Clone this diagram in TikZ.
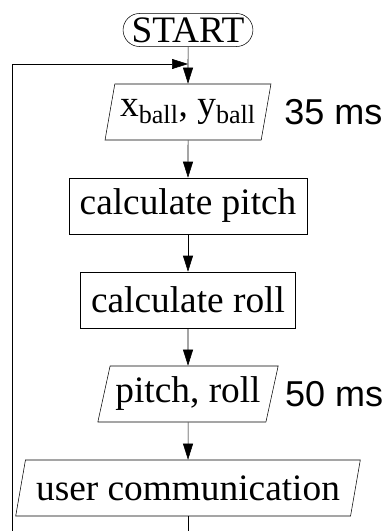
\documentclass[tikz,border=0pt]{standalone}
\usepackage{fontspec}
\setmainfont{Liberation Serif}
\setsansfont{Liberation Sans}
\usepackage{tikz}
\usetikzlibrary{arrows.meta}
\usetikzlibrary{shapes.geometric,shapes.misc,positioning}
\tikzset{
>={Triangle[length=12pt,width=7.5pt]}, % filled triangle heads
line width=1.6pt, % thick lines everywhere
node distance=70.5pt, % distance between the centres of two steps
every node/.style={font=\fontsize{28}{33}\selectfont}, % big serif text
terminal/.style={draw, rounded rectangle, inner xsep=2pt, inner ysep=3pt}, % start
process/.style={draw, rectangle, minimum height=42pt, inner xsep=8pt}, % a computation
io/.style={draw, trapezium, trapezium left angle=74, trapezium right angle=106,
  trapezium stretches body, minimum height=42pt, inner xsep=4pt}, % data in or out
timing/.style={font=\fontsize{27}{32}\selectfont\sffamily}, % duration next to a step
}

\begin{document}
\begin{tikzpicture}[x=0.75pt, y=0.75pt]
		\useasboundingbox (0,0) rectangle (388,-531);
		\clip (0,0) rectangle (388,-531);

		\node[terminal] (start) at (188,-30) {START};
		\node[io, node distance=61.5pt, below of=start] (ball) {x\textsubscript{ball}, y\textsubscript{ball}};
		\node[process, below of=ball] (pitch) {calculate pitch};
		\node[process, below of=pitch] (roll) {calculate roll};
		\node[io, below of=roll] (angles) {pitch, roll};
		\node[io, inner xsep=8pt, below of=angles] (user) {user communication};
		\node[timing, right=10pt of ball] (t1) {35 ms};
		\node[timing, right=6pt of angles] (t2) {50 ms};

		\coordinate (join) at (188,-64);
		\coordinate (back) at (12,-64);

		\draw[->] (start) edge (ball)
			  (ball) edge (pitch)
			  (pitch) edge (roll)
			  (roll) edge (angles)
			  (angles) edge (user);
		% back to the start of the loop
		\draw[->] (user.south) -- ++(0,-30) -| (back) -- (join);
	\end{tikzpicture}
\end{document}
